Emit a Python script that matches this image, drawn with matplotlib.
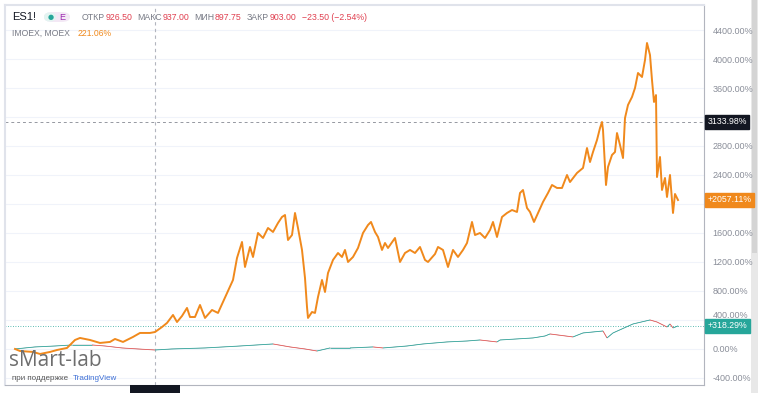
import matplotlib
matplotlib.use("Agg")
import matplotlib.pyplot as plt
import matplotlib.transforms as mtransforms
from matplotlib.collections import LineCollection
from matplotlib.patches import Rectangle, FancyBboxPatch
import numpy as np

# ---- data ----
es_t = [0, 5, 18, 25, 35, 42, 52, 60, 65, 75, 85, 95, 100, 108, 118, 125, 135, 140, 147, 152,
        158, 162, 167, 172, 175, 180, 185, 190, 197, 203, 212, 218, 222, 227, 230, 235, 238, 243,
        248, 253, 258, 263, 267, 270, 273, 277, 280, 283, 287, 290, 292, 293, 297, 300, 303, 307,
        310, 313, 318, 323, 327, 330, 333, 338, 343, 348, 353, 356, 360, 363, 367, 370, 373, 380,
        385, 390, 395, 400, 405, 410, 413, 420, 423, 428, 433, 438, 443, 448, 452, 457, 460, 465,
        470, 475, 478, 482, 487, 492, 497, 502, 505, 508, 512, 515, 519, 523, 528, 533, 537, 542,
        547, 552, 555, 562, 568, 572, 575, 578, 582, 585, 587, 588, 591, 593, 597, 600, 602, 605,
        608, 610, 613, 617, 620, 623, 627, 630, 632, 635, 637, 639, 641, 642, 645, 647, 650, 652,
        655, 658, 660, 663]
es_v = [0, -28, -41, -69, -41, -14, 14, 124, 152, 124, 83, 97, 138, 97, 166, 221, 221, 234, 303, 359,
        469, 372, 455, 566, 441, 441, 607, 428, 538, 497, 772, 952, 1255, 1476, 1131, 1407, 1269, 1600,
        1531, 1669, 1614, 1738, 1821, 1848, 1503, 1572, 1876, 1669, 1366, 979, 579, 428, 510, 497, 717,
        952, 786, 1048, 1228, 1324, 1269, 1366, 1200, 1269, 1393, 1600, 1710, 1752, 1614, 1545, 1366,
        1462, 1393, 1531, 1200, 1324, 1366, 1324, 1407, 1228, 1200, 1310, 1407, 1366, 1131, 1366,
        1269, 1366, 1462, 1752, 1572, 1600, 1531, 1641, 1752, 1545, 1821, 1876, 1917, 1890, 2152,
        2193, 1945, 1890, 1752, 1876, 2028, 2152, 2262, 2221, 2221, 2400, 2303, 2428, 2497, 2772,
        2579, 2717, 2883, 3048, 3131, 3021, 2262, 2510, 2676, 2717, 2979, 2814, 2634, 3186, 3366,
        3476, 3600, 3807, 3752, 3986, 4221, 4055, 3710, 3407, 3503, 2372, 2648, 2193, 2359, 2097,
        2400, 1876, 2138, 2055]

imoex_t = [0, 20, 40, 57, 77, 90, 107, 123, 140, 157, 190, 225, 258, 275, 290, 302, 315, 335,
           358, 368, 392, 408, 432, 452, 465, 482, 485, 518, 530, 535, 558, 568, 588, 592, 598,
           618, 635, 642, 652, 655, 658, 663]
imoex_v = [0, 28, 41, 55, 55, 41, 14, 0, -14, 0, 14, 41, 69, 28, 0, -28, 14, 14, 28, 14, 41, 69,
           97, 110, 124, 97, 124, 152, 179, 207, 166, 221, 248, 152, 221, 345, 400, 372, 303, 345,
           290, 318]

y_ticks = [-400, 0, 400, 800, 1200, 1600, 2000, 2400, 2800, 3200, 3600, 4000, 4400]
hidden_ticks = [2000, 3200]   # covered by the price labels in the reference
cross_t = 140
cross_v = 3133.98
es_last = 2057.11
imoex_last = 318.29

header_labels = ["ОТКР", "МАКС", "МИН", "ЗАКР"]
header_values = ["926.50", "937.00", "897.75", "903.00"]
header_change = "−23.50 (−2.54%)"

ORANGE = "#f0891c"
TEAL = "#26a69a"
RED = "#ef5350"
FONT = "Liberation Sans"

W, H = 758, 393
fig = plt.figure(figsize=(W / 100, H / 100), dpi=100)
fig.patch.set_facecolor("white")
renderer = fig.canvas.get_renderer()

x0, x1, ytop, ybot = 5, 704, 5, 385
ax = fig.add_axes([x0 / W, (H - ybot) / H, (x1 - x0) / W, (ybot - ytop) / H])
ax.set_facecolor("white")

ax.set_xlim(-10, 689)
ax.set_ylim(-497, 4745)

for v in y_ticks:
    ax.axhline(v, color="#f0f3fa", lw=0.8, zorder=0)

# IMOEX thin coloured line
pts = np.column_stack([imoex_t, imoex_v])
segs = np.stack([pts[:-1], pts[1:]], axis=1)
cols = [TEAL if b >= a else RED for a, b in zip(imoex_v[:-1], imoex_v[1:])]
lc = LineCollection(segs, colors=cols, linewidths=0.6, zorder=2, alpha=0.9)
ax.add_collection(lc)
ax.plot(imoex_t, imoex_v, color="#8a8e99", lw=0.3, zorder=1)

# ES1! orange line
ax.plot(es_t, es_v, color=ORANGE, lw=1.4, zorder=3, solid_joinstyle="round")

# reference lines
ax.axhline(imoex_last, color=TEAL, lw=0.6, ls=(0, (1, 2)), zorder=1)
ax.axhline(cross_v, color="#9598a1", lw=0.7, ls=(0, (3, 3)), zorder=1)
ax.axvline(cross_t, color="#b2b5be", lw=0.8, ls=(0, (3, 3)), zorder=1)

# axes styling
ax.yaxis.tick_right()
ax.set_yticks(y_ticks)
ax.set_yticklabels(["" if v in hidden_ticks else f"{v:.2f}%" for v in y_ticks],
                   fontsize=6.5, color="#8a8e99", family=FONT)
ax.tick_params(axis="y", length=0, pad=6)
# the 400% label peeks out above the IMOEX price label
for lab, v in zip(ax.get_yticklabels(), y_ticks):
    if v == 400:
        lab.set_transform(lab.get_transform() +
                          mtransforms.ScaledTranslation(0, 5 / 100, fig.dpi_scale_trans))
ax.set_xticks([])
for s in ["left", "top"]:
    ax.spines[s].set_color("#e0e3eb")
    ax.spines[s].set_linewidth(1.5)
ax.spines["right"].set_color("#b2b5be")
ax.spines["right"].set_linewidth(0.8)
ax.spines["bottom"].set_color("#b2b5be")
ax.spines["bottom"].set_linewidth(0.8)

# price labels on the right axis
tr = ax.get_yaxis_transform()
def price_label(v, text, bg):
    ax.text(1.005, v, text, transform=tr, fontsize=6.3, color="white", va="center", ha="left",
            family=FONT, bbox=dict(boxstyle="square,pad=0.3", fc=bg, ec=bg), zorder=10,
            clip_on=False)
price_label(cross_v, f"{cross_v:.2f}%", "#131722")
price_label(es_last, f"+{es_last:.2f}%", ORANGE)
price_label(imoex_last, f"+{imoex_last:.2f}%", TEAL)

# right scrollbar strip
fig.patches.append(Rectangle((751 / W, 0), 7 / W, 1, transform=fig.transFigure,
                             fc="#e8e8e8", ec="none", zorder=-1))
fig.patches.append(Rectangle((752 / W, 140 / H), 5 / W, (H - 140) / H, transform=fig.transFigure,
                             fc="#d4d4d4", ec="none", zorder=-1))
# crosshair time label box at bottom
fig.patches.append(Rectangle((130 / W, 0), 50 / W, 8 / H, transform=fig.transFigure,
                             fc="#131722", ec="none", zorder=5))

# header
def ft(x, y, s, **kw):
    kw.setdefault("family", FONT)
    t = fig.text(x / W, 1 - y / H, s, va="center", ha="left", **kw)
    return t

def width(t):
    return t.get_window_extent(renderer).width

ft(12, 17, "ES1!", fontsize=8, color="#131722")
fig.patches.append(FancyBboxPatch((44 / W, 1 - 22 / H), 26 / W, 10 / H, transform=fig.transFigure,
                                  boxstyle="round,pad=0,rounding_size=0.012", fc="#f3e8f5", ec="none"))
fig.patches.append(FancyBboxPatch((44 / W, 1 - 22 / H), 12 / W, 10 / H, transform=fig.transFigure,
                                  boxstyle="round,pad=0,rounding_size=0.012", fc="#e3f4f1", ec="none"))
ft(47.5, 17, "●", fontsize=5, color=TEAL, family="DejaVu Sans")
ft(59, 17, "E", fontsize=6.5, color="#9c27b0")
GREY = "#787b86"
RED2 = "#e04050"
x = 82
for lab, val in zip(header_labels, header_values):
    t = ft(x, 17, lab, fontsize=6.3, color=GREY)
    x += width(t) + 0.5
    t = ft(x, 17, val, fontsize=6.3, color=RED2)
    x += width(t) + 5
ft(x + 1, 17, header_change, fontsize=6.3, color=RED2)

t = ft(12, 33, "IMOEX, MOEX", fontsize=6.2, color=GREY)
ft(12 + width(t) + 8, 33, "221.06%", fontsize=6.2, color=ORANGE)

# watermark
ft(9, 360, "sMart-lab", fontsize=15, color="#6e6e6e", family="Open Sans")
t = ft(12, 379, "при поддержке", fontsize=5.8, color="#555555")
ft(12 + width(t) + 5, 379, "TradingView", fontsize=5.8, color="#3d6fd6")

fig.savefig("out.png", dpi=100, facecolor="white")
